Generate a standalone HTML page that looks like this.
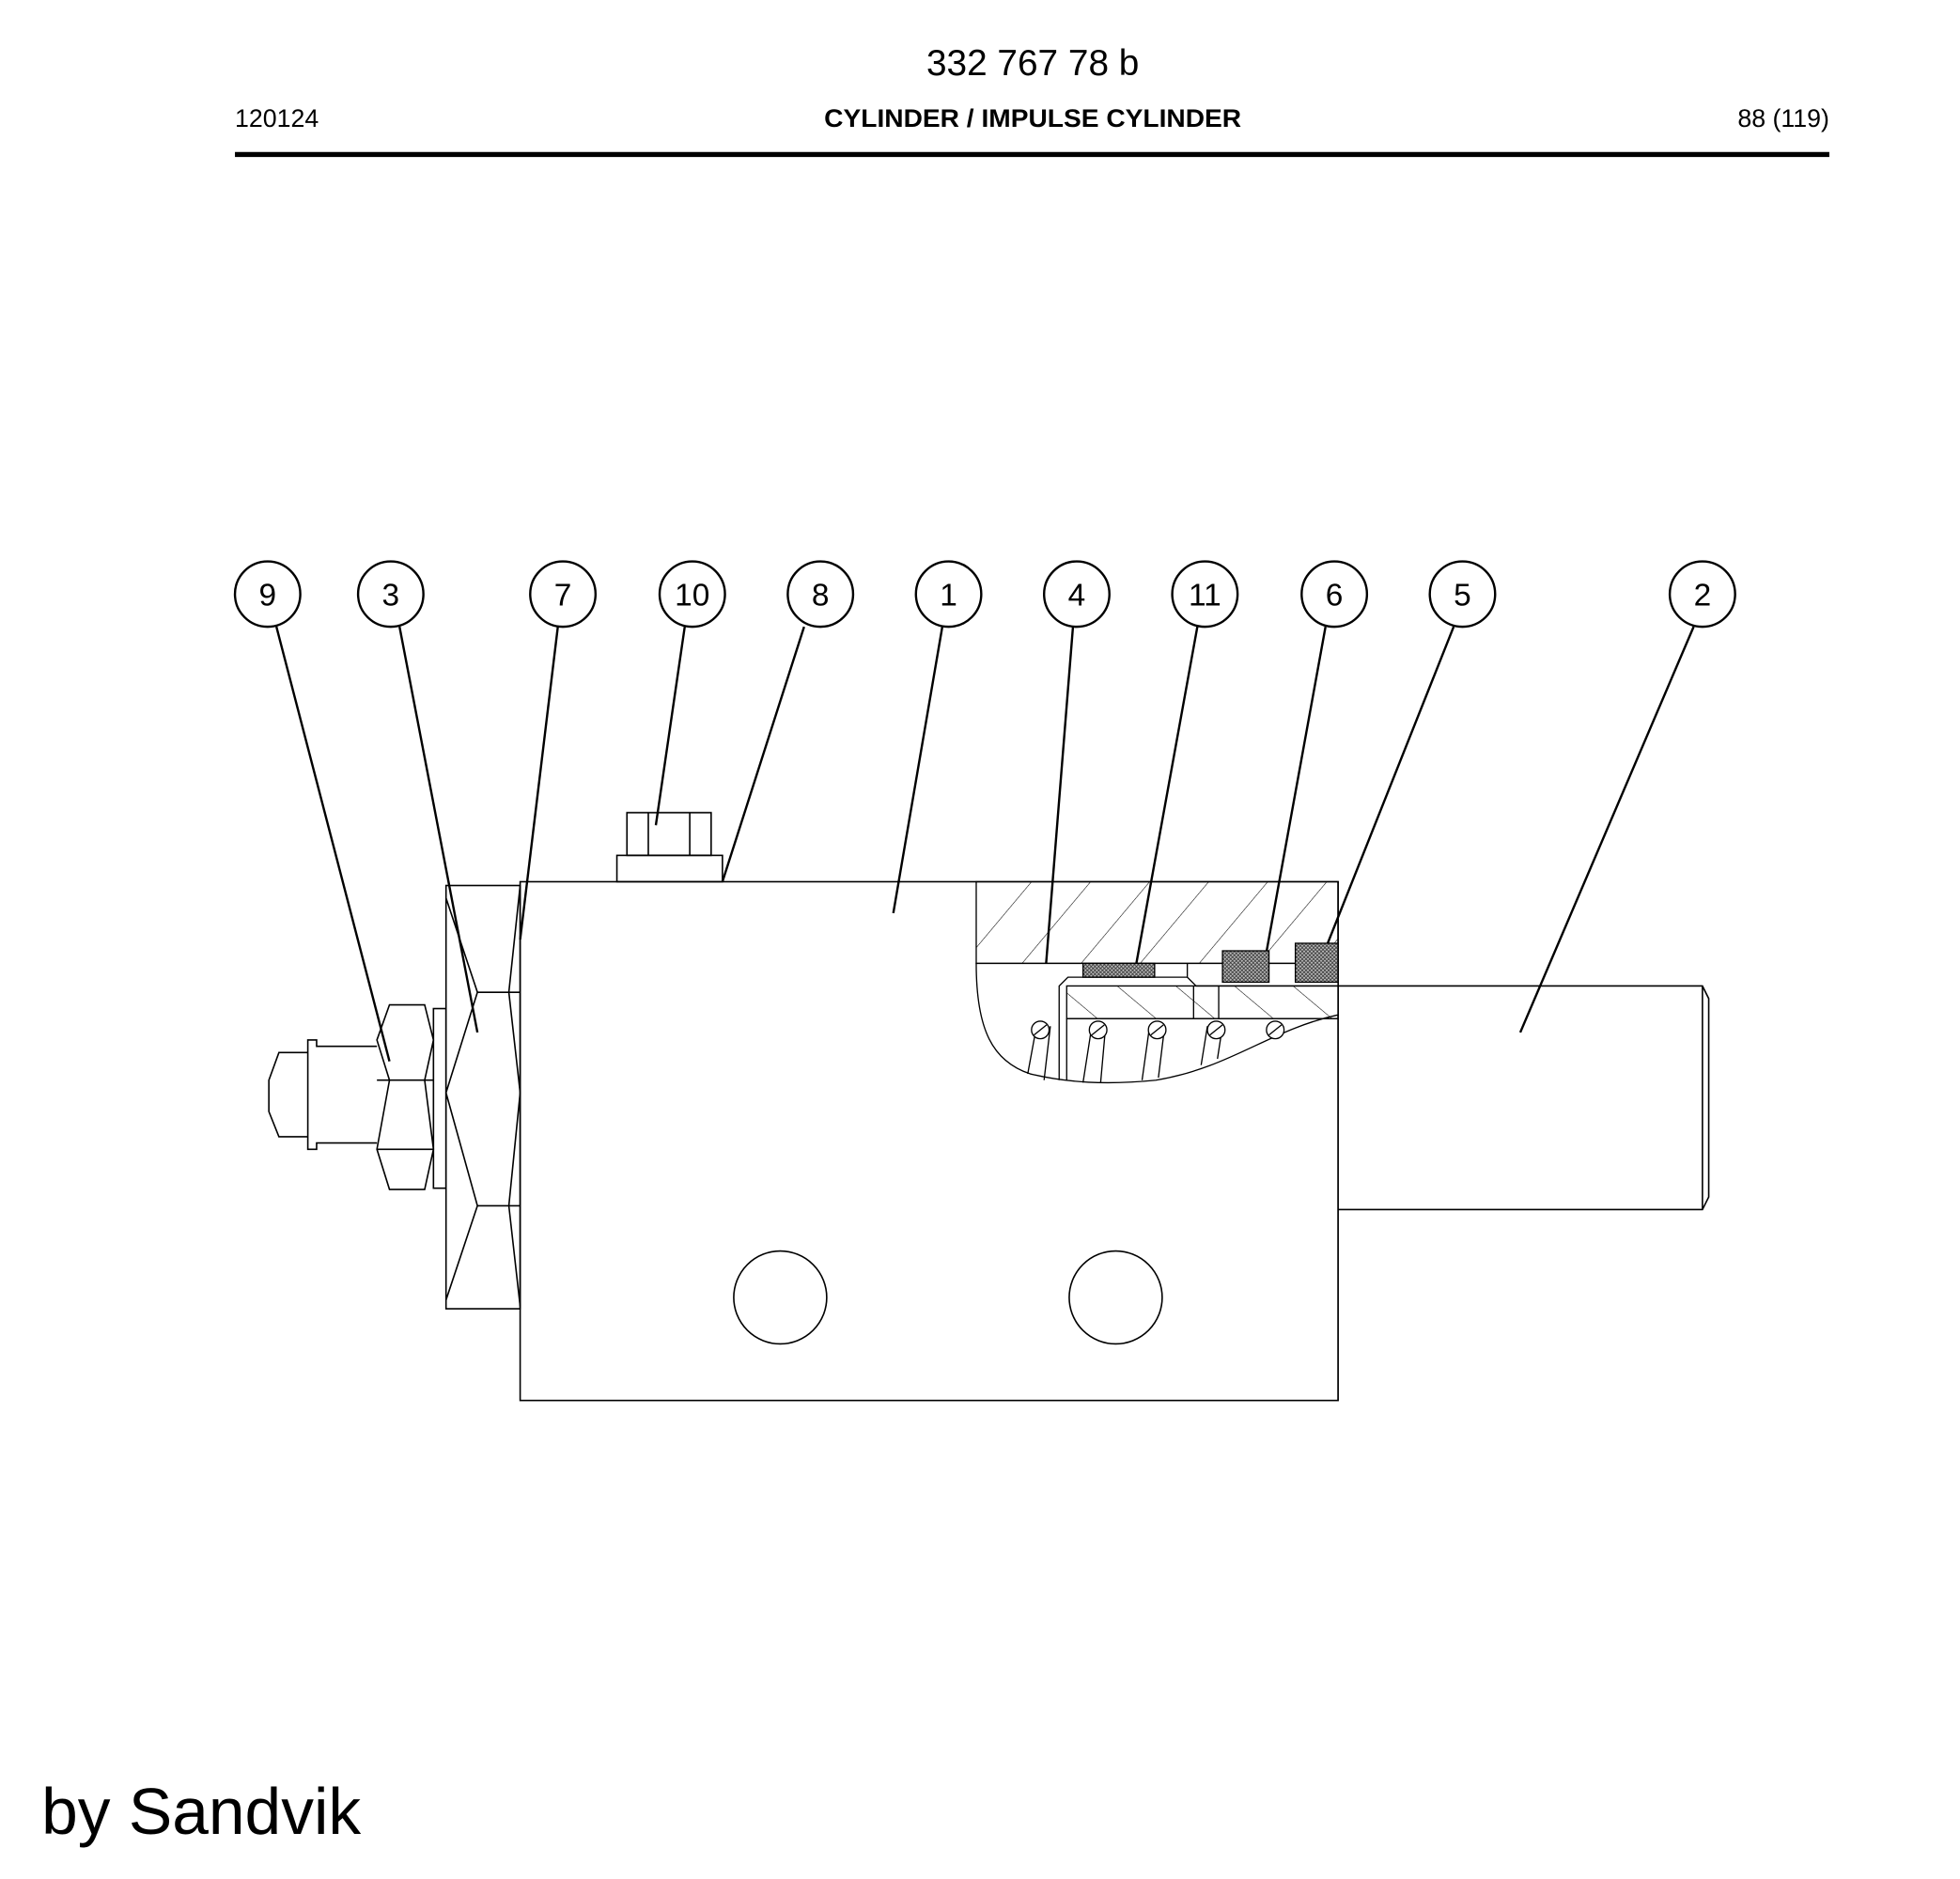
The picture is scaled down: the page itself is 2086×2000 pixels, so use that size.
<!DOCTYPE html>
<html><head><meta charset="utf-8"><style>html,body{margin:0;padding:0;background:#fff}svg{display:block}</style></head>
<body>
<svg width="2086" height="2000" viewBox="0 0 1560 1496" preserveAspectRatio="none" xmlns="http://www.w3.org/2000/svg">
<defs>
<pattern id="hatch" width="36" height="36" patternUnits="userSpaceOnUse" patternTransform="rotate(40)">
<line x1="0" y1="0" x2="0" y2="36" stroke="#000" stroke-width="0.8"/></pattern>
<pattern id="hatch2" width="30" height="30" patternUnits="userSpaceOnUse" patternTransform="rotate(-50)">
<line x1="0" y1="0" x2="0" y2="30" stroke="#000" stroke-width="0.8"/></pattern>
<pattern id="xh" width="3" height="3" patternUnits="userSpaceOnUse">
<rect width="3" height="3" fill="#bbb"/><path d="M0 0L3 3M3 0L0 3" stroke="#333" stroke-width="0.6"/></pattern>
</defs>
<g font-family="Liberation Sans, sans-serif" fill="#000">
<text x="822" y="60" font-size="29" text-anchor="middle">332 767 78 b</text>
<text x="187" y="101" font-size="20">120124</text>
<text x="822" y="101" font-size="20" font-weight="bold" text-anchor="middle" textLength="332" lengthAdjust="spacingAndGlyphs">CYLINDER / IMPULSE CYLINDER</text>
<text x="1456" y="101" font-size="20" text-anchor="end">88 (119)</text>
<text x="33" y="1460" font-size="52">by Sandvik</text>
<g font-size="25" text-anchor="middle">
<text x="213" y="482">9</text><text x="311" y="482">3</text><text x="448" y="482">7</text>
<text x="551" y="482">10</text><text x="653" y="482">8</text><text x="755" y="482">1</text>
<text x="857" y="482">4</text><text x="959" y="482">11</text><text x="1062" y="482">6</text>
<text x="1164" y="482">5</text><text x="1355" y="482">2</text>
</g>
</g>
<rect x="187" y="121" width="1269" height="4" fill="#000"/>
<g fill="none" stroke="#000" stroke-width="1.2">
<g stroke-width="1.8">
<circle cx="213" cy="473" r="26"/><circle cx="311" cy="473" r="26"/><circle cx="448" cy="473" r="26"/>
<circle cx="551" cy="473" r="26"/><circle cx="653" cy="473" r="26"/><circle cx="755" cy="473" r="26"/>
<circle cx="857" cy="473" r="26"/><circle cx="959" cy="473" r="26"/><circle cx="1062" cy="473" r="26"/>
<circle cx="1164" cy="473" r="26"/><circle cx="1355" cy="473" r="26"/>
<line x1="220" y1="499" x2="310" y2="845"/><line x1="318" y1="499" x2="380" y2="822"/>
<line x1="444" y1="499" x2="414" y2="748"/><line x1="545" y1="499" x2="522" y2="657"/>
<line x1="640" y1="499" x2="575" y2="702"/><line x1="750" y1="499" x2="711" y2="727"/>
<line x1="854" y1="499" x2="828" y2="825"/><line x1="953" y1="499" x2="903" y2="775"/>
<line x1="1055" y1="499" x2="1004" y2="780"/><line x1="1157" y1="499" x2="1046" y2="778"/>
<line x1="1348" y1="499" x2="1210" y2="822"/>
</g>
<rect x="414" y="702" width="651" height="413"/>
<rect x="491" y="681" width="84" height="21"/>
<rect x="499" y="647" width="67" height="34"/>
<line x1="516" y1="647" x2="516" y2="681"/><line x1="549" y1="647" x2="549" y2="681"/>
<rect x="355" y="705" width="59" height="337"/>
<path d="M355 715 L380 790 L414 790 M380 790 L355 870 L380 960 L414 960 M380 960 L355 1035 M414 705 L405 790 L414 870 L405 960 L414 1040"/>
<rect x="345" y="803" width="10" height="143"/>
<path d="M310 800 L338 800 L345 828 L338 860 L345 915 L338 947 L310 947 L300 915 L310 860 L300 828 Z"/>
<line x1="300" y1="860" x2="345" y2="860"/><line x1="300" y1="915" x2="345" y2="915"/>
<path d="M300 833 L252 833 L252 828 L245 828 L245 915 L252 915 L252 910 L300 910"/>
<path d="M245 838 L222 838 L214 860 L214 885 L222 905 L245 905"/>
<path d="M1065 785 L1355 785 L1360 795 L1360 953 L1355 963 L1065 963"/>
<line x1="1355" y1="785" x2="1355" y2="963"/>
<circle cx="621" cy="1033" r="37"/><circle cx="888" cy="1033" r="37"/>
</g>
<g stroke="#000" stroke-width="1" fill="#fff">
<rect x="777" y="702" width="288" height="65" fill="url(#hatch)"/>
<path d="M777 767 C777 820 790 845 820 855 C850 862 880 864 920 860 C980 850 1010 820 1065 808 L1065 767 Z"/>
<path d="M849 811 L849 860 M843 860 L843 785 L850 778 L945 778 L945 767 M945 778 L952 785 L1065 785" fill="none"/>
<path d="M849 785 L1065 785 L1065 811 L849 811 Z" fill="url(#hatch2)"/>
<line x1="849" y1="811" x2="1065" y2="811"/>
<line x1="950" y1="785" x2="950" y2="811"/><line x1="970" y1="785" x2="970" y2="811"/>
<rect x="862" y="767" width="57" height="11" fill="url(#xh)"/>
<rect x="973" y="757" width="37" height="25" fill="url(#xh)"/>
<rect x="1031" y="751" width="34" height="31" fill="url(#xh)"/>
<g fill="none">
<path d="M818 855 L825 817 M831 860 L836 817 M862 862 L869 817 M876 862 L880 817 M909 860 L915 817 M922 858 L927 817 M956 848 L961 817 M969 843 L973 817"/>
</g>
<g fill="#fff">
<circle cx="828" cy="820" r="7"/><circle cx="874" cy="820" r="7"/><circle cx="921" cy="820" r="7"/>
<circle cx="968" cy="820" r="7"/><circle cx="1015" cy="820" r="7"/>
</g>
<path d="M823 824 L833 816 M869 824 L879 816 M916 824 L926 816 M963 824 L973 816 M1010 824 L1020 816" fill="none"/>
<line x1="1065" y1="702" x2="1065" y2="1115" fill="none"/>
</g>
</svg>
</body></html>
